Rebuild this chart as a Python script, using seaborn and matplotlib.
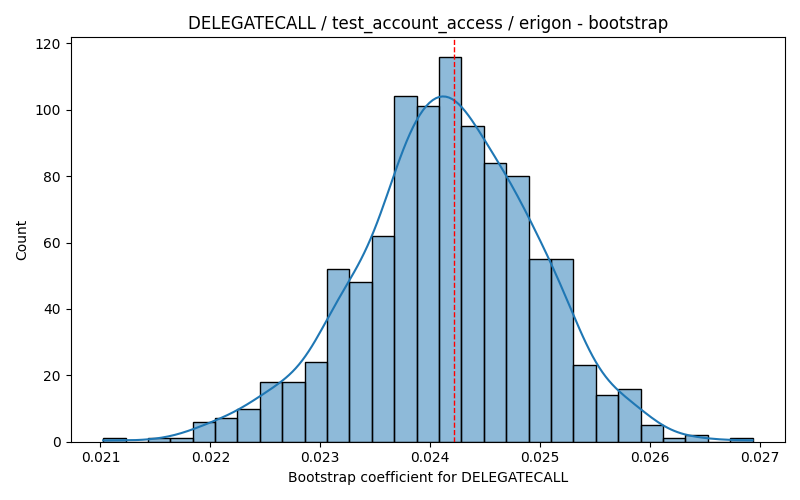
import numpy as np
import pandas as pd
import matplotlib
matplotlib.use('Agg')
import matplotlib.pyplot as plt
import seaborn as sns

# valores
data_min = 0.021024
data_max = 0.026933
n_bins = 29
counts = [1, 0, 1, 1, 6, 7, 10, 18, 18, 24, 52, 48, 62, 104, 101, 116,
          95, 84, 80, 55, 55, 23, 14, 16, 5, 1, 2, 0, 1]
estimate = 0.024215

# reconstruir muestras a partir de los conteos por bin
edges = np.linspace(data_min, data_max, n_bins + 1)
centers = (edges[:-1] + edges[1:]) / 2
centers[0] = data_min
centers[-1] = data_max
samples = np.repeat(centers, counts)
df = pd.DataFrame({'coef': samples})

plt.figure(figsize=(8, 5))
sns.histplot(data=df, x='coef', bins=n_bins, kde=True, kde_kws={'bw_adjust': 1.1})
plt.axvline(estimate, color='red', linestyle='--', linewidth=1)
plt.title('DELEGATECALL / test_account_access / erigon - bootstrap')
plt.xlabel('Bootstrap coefficient for DELEGATECALL')
plt.ylabel('Count')
plt.tight_layout()
plt.savefig('out.png', dpi=100)
